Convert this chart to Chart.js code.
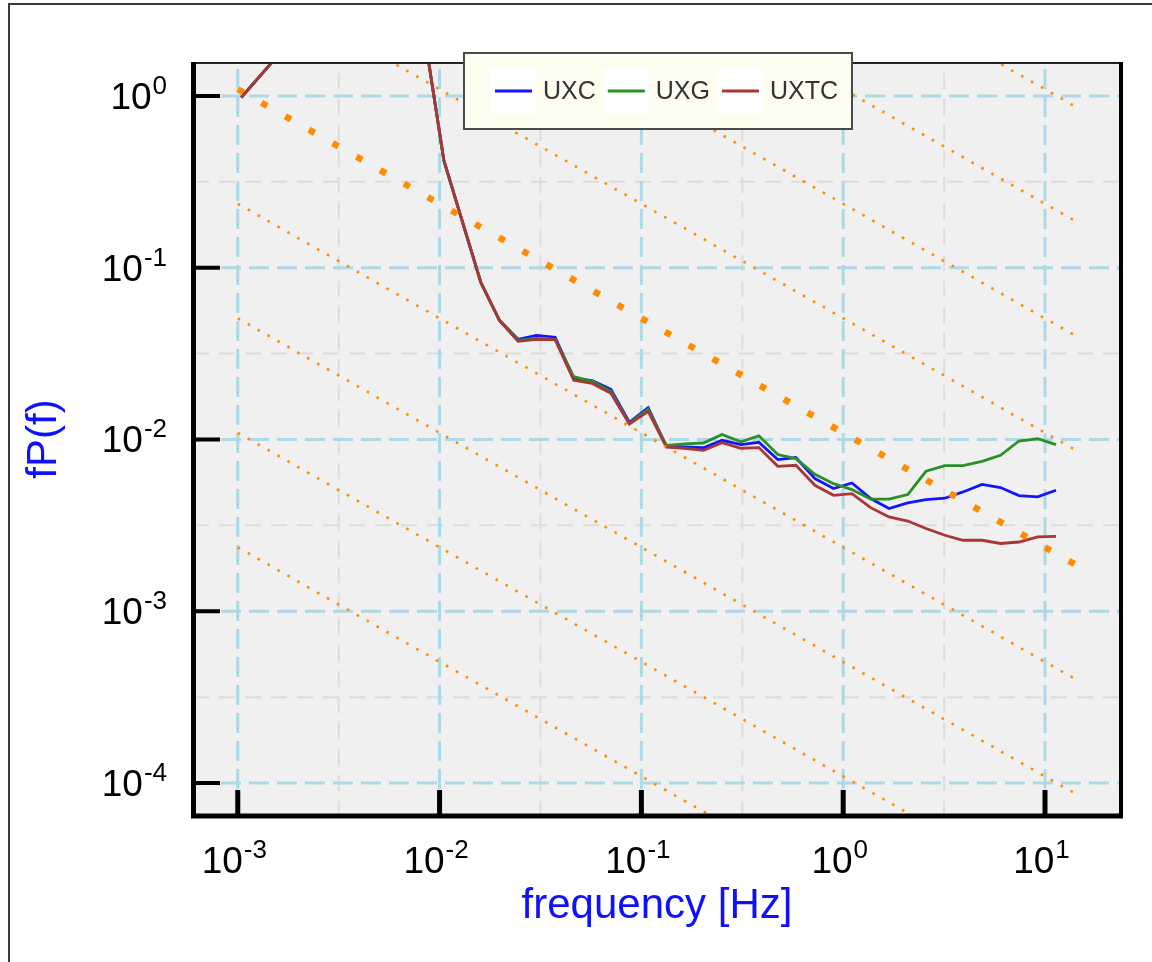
<!DOCTYPE html>
<html>
<head>
<meta charset="utf-8">
<script src="https://cdn.jsdelivr.net/npm/chart.js@4.4.1/dist/chart.umd.min.js"></script>
<style>
  html, body { margin: 0; padding: 0; background: #fff; }
  canvas { display: block; }
</style>
</head>
<body>
<canvas id="psdChart" width="1152" height="962"></canvas>
<script>
// spectra fP(f), one value per frequency bin
const freq = [0.00104, 0.002, 0.003, 0.0045, 0.006, 0.0085, 0.0105, 0.013, 0.016, 0.0198,
  0.0245, 0.0302, 0.0374, 0.0462, 0.0571, 0.0706, 0.0872, 0.108, 0.133, 0.164,
  0.203, 0.251, 0.311, 0.382, 0.474, 0.583, 0.724, 0.896, 1.105, 1.368,
  1.686, 2.089, 2.572, 3.191, 3.923, 4.873, 6.018, 7.432, 9.19, 11.34];

const uxc = [0.98, 2.36, 3.4, 4.0, 3.5, 2.1, 0.422, 0.184, 0.0823, 0.0494,
  0.0383, 0.0404, 0.0394, 0.0227, 0.0220, 0.0196, 0.0126, 0.0153, 0.00913, 0.00907,
  0.00895, 0.00989, 0.00934, 0.00963, 0.00764, 0.00785, 0.00592, 0.00518, 0.00558, 0.00453,
  0.00396, 0.00427, 0.00447, 0.00455, 0.00495, 0.00548, 0.00525, 0.00471, 0.00463, 0.00506];

const uxg = [0.98, 2.36, 3.4, 4.0, 3.5, 2.1, 0.422, 0.184, 0.0823, 0.0494,
  0.0378, 0.0388, 0.0383, 0.0232, 0.0218, 0.0191, 0.0124, 0.0150, 0.00925, 0.00944,
  0.00954, 0.0107, 0.0097, 0.0105, 0.00817, 0.00774, 0.00627, 0.00553, 0.00511, 0.00449,
  0.00449, 0.00478, 0.00653, 0.00705, 0.00705, 0.00746, 0.00809, 0.0098, 0.0101, 0.00934];

const uxtc = [0.98, 2.36, 3.4, 4.0, 3.5, 2.1, 0.422, 0.184, 0.0823, 0.0494,
  0.0373, 0.0383, 0.0381, 0.0221, 0.0212, 0.0186, 0.0123, 0.0146, 0.00901, 0.00889,
  0.00865, 0.00959, 0.00889, 0.00897, 0.00698, 0.00708, 0.00541, 0.00473, 0.00484, 0.00401,
  0.00354, 0.00335, 0.00303, 0.00277, 0.00259, 0.00259, 0.00248, 0.00253, 0.00271, 0.00273];

const seriesLabels = ['UXC', 'UXG', 'UXTC'];

// f^(-2/3) guide lines: value at each end of the frequency span
const guideFreq = [0.001, 14.5];
const guideStart = [508, 109.4, 23.57, 5.078, 1.094, 0.2357, 0.05078, 0.01094, 0.002357];
const guideEnd = [0.8545, 0.1839, 0.03960, 0.008545, 0.001839, 0.0003960, 0.00008524, 0.00001839, 0.000003960];
const guideBold = 4;

// axis decades and half-decade grid
const xTicks = [0.001, 0.01, 0.1, 1, 10];
const yTicks = [1, 0.1, 0.01, 0.001, 0.0001];
const xMinor = [0.0031623, 0.031623, 0.31623, 3.1623];
const yMinor = [0.31623, 0.031623, 0.0031623, 0.00031623];

const FONT = '"Liberation Sans", Arial, Helvetica, sans-serif';
const colors = ['#1414ff', '#279127', '#a93535'];

const toPoints = vals => vals.map((v, i) => ({ x: freq[i], y: v }));

const datasets = [];
[uxc, uxg, uxtc].forEach((vals, i) => {
  datasets.push({
    label: seriesLabels[i],
    data: toPoints(vals),
    borderColor: colors[i],
    borderWidth: 2.8,
    pointRadius: 0,
    tension: 0,
    order: 3 - i
  });
});
guideStart.forEach((v, i) => {
  const bold = i === guideBold;
  datasets.push({
    label: '',
    data: [{ x: guideFreq[0], y: v }, { x: guideFreq[1], y: guideEnd[i] }],
    borderColor: '#ff8c00',
    borderWidth: bold ? 6.5 : 2.6,
    borderDash: bold ? [6.5, 20.8] : [2.6, 8.8],
    borderCapStyle: 'butt',
    pointRadius: 0,
    order: 0
  });
});

function drawPower(ctx, value, x, baseline, align) {
  const base = '10';
  const sup = String(Math.round(Math.log10(value)));
  ctx.font = '37px ' + FONT;
  const wb = ctx.measureText(base).width;
  ctx.font = '26px ' + FONT;
  const ws = ctx.measureText(sup).width;
  const left = align === 'right' ? x - wb - ws : x - (wb + ws) / 2;
  ctx.textAlign = 'left';
  ctx.textBaseline = 'alphabetic';
  ctx.fillStyle = '#000';
  ctx.font = '37px ' + FONT;
  ctx.fillText(base, left, baseline);
  ctx.font = '26px ' + FONT;
  ctx.fillText(sup, left + wb + 1, baseline - 15);
}

const backdrop = {
  id: 'backdrop',
  beforeDraw(chart) {
    const { ctx, chartArea: a, scales: { x, y } } = chart;
    ctx.save();
    ctx.fillStyle = '#fff';
    ctx.fillRect(0, 0, chart.width, chart.height);
    ctx.strokeStyle = '#3a3a3a';
    ctx.lineWidth = 2;
    ctx.strokeRect(9, 4, chart.width + 40, chart.height + 40);

    ctx.fillStyle = '#f0f0f0';
    ctx.fillRect(a.left, a.top, a.width, a.height);

    const vline = px => { ctx.beginPath(); ctx.moveTo(px, a.bottom); ctx.lineTo(px, a.top); ctx.stroke(); };
    const hline = py => { ctx.beginPath(); ctx.moveTo(a.left, py); ctx.lineTo(a.right, py); ctx.stroke(); };

    // half-decade grid
    ctx.strokeStyle = '#dcdcdc';
    ctx.lineWidth = 2;
    ctx.setLineDash([16, 10]);
    xMinor.forEach(v => vline(x.getPixelForValue(v)));
    yMinor.forEach(v => hline(y.getPixelForValue(v)));

    // decade grid
    ctx.strokeStyle = '#add8e6';
    ctx.lineWidth = 3;
    ctx.setLineDash([20, 8]);
    xTicks.forEach(v => vline(x.getPixelForValue(v)));
    yTicks.forEach(v => hline(y.getPixelForValue(v)));
    ctx.restore();
  },
  afterDraw(chart) {
    const { ctx, chartArea: a, scales: { x, y } } = chart;
    ctx.save();

    // plot frame
    ctx.strokeStyle = '#222';
    ctx.lineWidth = 2;
    ctx.beginPath(); ctx.moveTo(a.left, a.top); ctx.lineTo(a.right, a.top); ctx.stroke();
    ctx.strokeStyle = '#000';
    ctx.lineWidth = 4;
    ctx.beginPath(); ctx.moveTo(a.right, a.top - 1); ctx.lineTo(a.right, a.bottom); ctx.stroke();
    ctx.lineWidth = 5;
    ctx.beginPath();
    ctx.moveTo(a.left + 0.5, a.top - 1);
    ctx.lineTo(a.left + 0.5, a.bottom - 1);
    ctx.lineTo(a.right + 2, a.bottom - 1);
    ctx.stroke();

    // tick marks and labels
    ctx.fillStyle = '#000';
    xTicks.forEach(v => {
      const px = x.getPixelForValue(v);
      ctx.fillRect(px - 2.5, a.bottom - 27, 5, 27);
      drawPower(ctx, v, px - 4, 873, 'center');
    });
    yTicks.forEach(v => {
      const py = y.getPixelForValue(v);
      ctx.fillRect(a.left, py - 2, 27, 4);
      drawPower(ctx, v, 166, py + 13, 'right');
    });

    // axis titles
    ctx.fillStyle = '#1010ff';
    ctx.font = '42px ' + FONT;
    ctx.textAlign = 'center';
    ctx.textBaseline = 'alphabetic';
    ctx.fillText('frequency [Hz]', (a.left + a.right) / 2, 918);
    ctx.save();
    ctx.translate(56, 439);
    ctx.rotate(-Math.PI / 2);
    ctx.fillText('fP(f)', 0, 0);
    ctx.restore();

    // legend
    const box = { left: 464, top: 53, right: 852, bottom: 129 };
    ctx.fillStyle = '#fdfdf0';
    ctx.fillRect(box.left, box.top, box.right - box.left, box.bottom - box.top);
    ctx.strokeStyle = '#4a4a4a';
    ctx.lineWidth = 2;
    ctx.strokeRect(box.left, box.top, box.right - box.left, box.bottom - box.top);
    const midY = (box.top + box.bottom) / 2;
    ctx.font = '25px ' + FONT;
    ctx.textAlign = 'left';
    ctx.textBaseline = 'middle';
    let cx = 490;
    chart.data.datasets.slice(0, seriesLabels.length).forEach(ds => {
      ctx.fillStyle = '#fff';
      ctx.fillRect(cx, midY - 23, 46, 46);
      ctx.strokeStyle = ds.borderColor;
      ctx.lineWidth = 3;
      ctx.beginPath(); ctx.moveTo(cx + 5, midY); ctx.lineTo(cx + 42, midY); ctx.stroke();
      ctx.fillStyle = '#333';
      ctx.fillText(ds.label, cx + 53, midY + 1);
      cx += 53 + ctx.measureText(ds.label).width + 7;
    });
    ctx.restore();
  }
};

new Chart(document.getElementById('psdChart'), {
  type: 'line',
  data: { datasets },
  options: {
    responsive: false,
    animation: false,
    events: [],
    layout: { padding: { top: 63, right: 31, left: 0, bottom: 0 } },
    plugins: { legend: { display: false }, tooltip: { enabled: false } },
    scales: {
      x: {
        type: 'logarithmic',
        min: 6.07e-4,
        max: 23.8,
        ticks: { display: false },
        grid: { display: false },
        border: { display: false },
        afterFit: s => { s.height = 145; }
      },
      y: {
        type: 'logarithmic',
        min: 6.34e-5,
        max: 1.556,
        ticks: { display: false },
        grid: { display: false },
        border: { display: false },
        afterFit: s => { s.width = 193; }
      }
    }
  },
  plugins: [backdrop]
});
</script>
</body>
</html>
